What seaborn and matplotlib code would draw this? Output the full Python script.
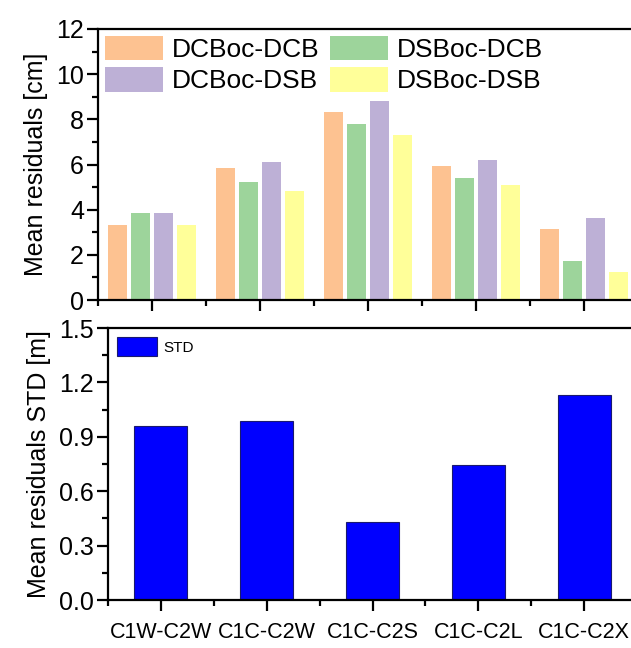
import matplotlib
matplotlib.use("Agg")
import matplotlib.pyplot as plt
from matplotlib.ticker import MultipleLocator, FormatStrFormatter
from matplotlib.patches import Patch
import seaborn as sns
import pandas as pd

categories = ["C1W-C2W", "C1C-C2W", "C1C-C2S", "C1C-C2L", "C1C-C2X"]
series = ["DCBoc-DCB", "DSBoc-DCB", "DCBoc-DSB", "DSBoc-DSB"]
dcboc_dcb = [3.33, 5.83, 8.33, 5.93, 3.14]
dsboc_dcb = [3.85, 5.21, 7.81, 5.42, 1.73]
dcboc_dsb = [3.85, 6.12, 8.83, 6.21, 3.63]
dsboc_dsb = [3.33, 4.83, 7.31, 5.11, 1.25]
std_values = [0.96, 0.986, 0.431, 0.747, 1.131]

colors = ["#fdc291", "#9dd49b", "#bdb0d6", "#ffff99"]

sns.set_style("ticks")
plt.rcParams["font.family"] = ["Liberation Sans", "DejaVu Sans"]
plt.rcParams["text.color"] = "black"
plt.rcParams["axes.labelcolor"] = "black"
plt.rcParams["xtick.color"] = "black"
plt.rcParams["ytick.color"] = "black"

rows = []
for name, vals in zip(series, [dcboc_dcb, dsboc_dcb, dcboc_dsb, dsboc_dsb]):
    for c, v in zip(categories, vals):
        rows.append({"cat": c, "series": name, "value": v})
df_top = pd.DataFrame(rows)
df_bot = pd.DataFrame({"cat": categories, "value": std_values, "series": ["STD"] * 5})

fig = plt.figure(figsize=(6.31, 6.48), dpi=100)
W, H = 631, 648
ax1 = fig.add_axes([98 / W, 1 - 300 / H, 540 / W, 271 / H])
ax2 = fig.add_axes([108 / W, 1 - 600 / H, 529 / W, 272 / H])

sns.barplot(data=df_top, x="cat", y="value", hue="series", order=categories,
            hue_order=series, palette=colors, width=0.85, gap=0.15,
            saturation=1, linewidth=0, legend=False, ax=ax1)
sns.barplot(data=df_bot, x="cat", y="value", hue="series", order=categories,
            palette=["#0000ff"], width=0.5, saturation=1,
            edgecolor="#1a1a6e", linewidth=0.8, ax=ax2)

for ax in (ax1, ax2):
    ax.set_xlim(-0.5, 4.5)
    ax.set_xlabel("")
    for s in ["top", "left", "bottom"]:
        ax.spines[s].set_visible(True)
        ax.spines[s].set_linewidth(1.6)
        ax.spines[s].set_color("black")
    ax.spines["right"].set_visible(False)
    ax.xaxis.set_minor_locator(MultipleLocator(1.0, offset=0.5))
    ax.tick_params(which="major", direction="out", length=8, width=1.6,
                   labelsize=18, pad=2, colors="black")
    ax.tick_params(which="minor", direction="out", length=4, width=1.6,
                   colors="black")

ax1.set_ylim(0, 12)
ax1.yaxis.set_major_locator(MultipleLocator(2))
ax1.yaxis.set_minor_locator(MultipleLocator(1))
ax1.set_xticks(range(5))
ax1.set_xticklabels([])
ax1.set_ylabel("Mean residuals [cm]", fontsize=18, labelpad=6)
handles = {name: Patch(facecolor=col, edgecolor="none") for name, col in zip(series, colors)}
leg_order = ["DCBoc-DCB", "DCBoc-DSB", "DSBoc-DCB", "DSBoc-DSB"]
ax1.legend([handles[n] for n in leg_order], leg_order,
           loc="upper left", ncol=2, frameon=False, fontsize=19,
           handlelength=2.2, handleheight=1.05, labelspacing=0.2,
           handletextpad=0.35, columnspacing=0.4, borderpad=0.15,
           borderaxespad=0.1)

ax2.set_ylim(0, 1.5)
ax2.yaxis.set_major_locator(MultipleLocator(0.3))
ax2.yaxis.set_minor_locator(MultipleLocator(0.15))
ax2.yaxis.set_major_formatter(FormatStrFormatter("%.1f"))
ax2.set_xticks(range(5))
ax2.set_xticklabels(categories, fontsize=15.5)
ax2.tick_params(axis="x", which="major", pad=8)
ax2.set_ylabel("Mean residuals STD [m]", fontsize=18, labelpad=6)
ax2.legend(loc="upper left", frameon=False, fontsize=11,
           handlelength=2.6, handleheight=1.5, handletextpad=0.4,
           borderpad=0.4, borderaxespad=0.2)

fig.savefig("out.png", dpi=100)
